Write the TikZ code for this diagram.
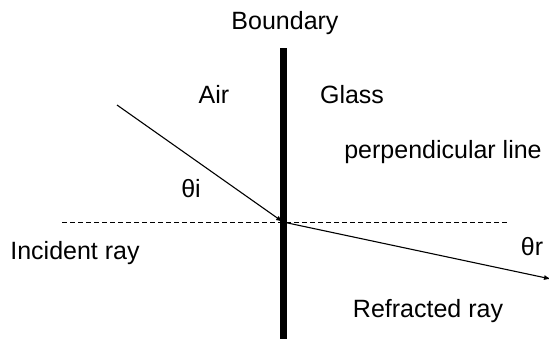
\documentclass[tikz,border=0pt]{standalone}
\usepackage{fontspec}
\setmainfont{Liberation Sans}
\usetikzlibrary{arrows.meta}
\begin{document}
\begin{tikzpicture}[
x=1bp, y=-1bp,
lbl/.style={anchor=base, inner sep=0pt, font=\fontsize{25bp}{30bp}\selectfont},
ray/.style={line width=1.1bp, -{Latex[length=7bp,width=5bp]}}
]
\useasboundingbox (0,0) rectangle (549,339);

% ---------- BOUNDARY ----------
\coordinate (btop) at (283,48);
\coordinate (bbot) at (283,339);
\draw[line width=7bp] (btop) -- (bbot);
\node[lbl] (boundary) at (285,29) {Boundary};

% media
\node[lbl] (air) at (214,103) {Air};
\node[lbl] (glass) at (352,103) {Glass};

% ---------- PERPENDICULAR ----------
\coordinate (pl) at (62,222);
\coordinate (pr) at (507,222);
\draw[line width=0.9bp, dash pattern=on 5bp off 3bp] (pl) -- (pr);
\node[lbl] (perp) at (443,158) {perpendicular line};

% ---------- RAYS ----------
\coordinate (src) at (117,105);
\coordinate (hit) at (283,222);
\coordinate (out) at (551,279);
\draw[ray] (src) -- (hit);
\draw[ray] (hit) -- (out);

% angles and ray names
\node[lbl] (thi) at (191,197) {θi};
\node[lbl] (thr) at (532,255) {θr};
\node[lbl] (inc) at (75,259) {Incident ray};
\node[lbl] (refr) at (428,317) {Refracted ray};

\end{tikzpicture}
\end{document}
